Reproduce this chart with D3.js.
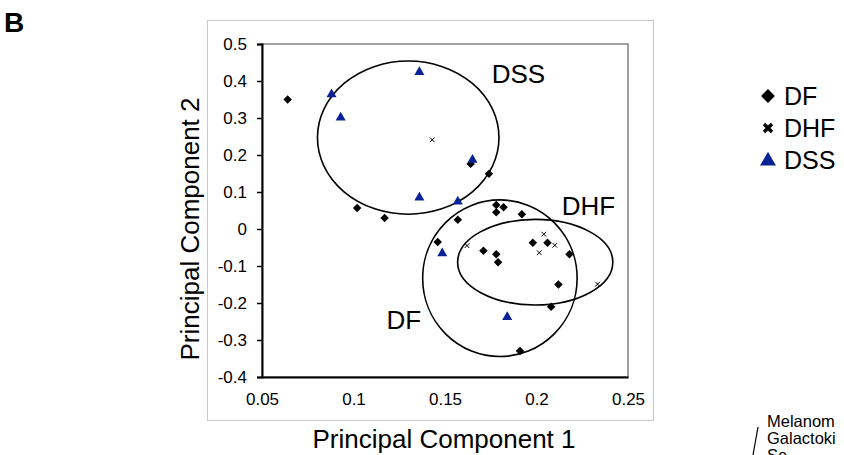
<!DOCTYPE html>
<html>
<head>
<meta charset="utf-8">
<script src="https://cdn.jsdelivr.net/npm/d3@7"></script>
<style>
  body { margin: 0; background: #fff; }
  svg { font-family: Arial, "Liberation Sans", sans-serif; }
</style>
</head>
<body>
<div id="chart"></div>
<script>
const width = 844, height = 455;

// data
const dfPoints = [
  [0.064, 0.35], [0.102, 0.057], [0.117, 0.03], [0.164, 0.176], [0.174, 0.149],
  [0.157, 0.025], [0.178, 0.065], [0.182, 0.059], [0.178, 0.045], [0.192, 0.040],
  [0.146, -0.035], [0.171, -0.059], [0.178, -0.068], [0.179, -0.090], [0.198, -0.037],
  [0.206, -0.037], [0.218, -0.068], [0.212, -0.150], [0.208, -0.210], [0.191, -0.330]
];
const dhfPoints = [
  [0.143, 0.241], [0.162, -0.045], [0.204, -0.014], [0.210, -0.044], [0.2015, -0.064], [0.2334, -0.149]
];
const dssPoints = [
  [0.088, 0.364], [0.093, 0.301], [0.136, 0.424], [0.136, 0.085], [0.157, 0.074],
  [0.165, 0.187], [0.1485, -0.066], [0.184, -0.238]
];

// group ellipses: name, centre, radii (data units)
const groupNames = ["DSS", "DF", "DHF"];
const groupCx = [0.1299, 0.180, 0.1993];
const groupCy = [0.247, -0.133, -0.0897];
const groupRx = [0.0496, 0.0422, 0.0424];
const groupRy = [0.207, 0.2116, 0.1157];
// label anchor points (data units, text baseline start)
const labelX = [0.1755, 0.1180, 0.2138];
const labelY = [0.395, -0.270, 0.037];

const xTicks = [0.05, 0.1, 0.15, 0.2, 0.25];
const yTicks = [0.5, 0.4, 0.3, 0.2, 0.1, 0, -0.1, -0.2, -0.3, -0.4];

const legendNames = ["DF", "DHF", "DSS"];
const captionLines = ["Melanom", "Galactoki", "Se"];
const dssColor = "#0a2296";

const svg = d3.select("#chart")
  .append("svg")
  .attr("width", width)
  .attr("height", height);

// outer chart frame
svg.append("rect")
  .attr("x", 207.5).attr("y", 20.5)
  .attr("width", 446).attr("height", 400)
  .attr("fill", "none")
  .attr("stroke", "#c8c8c8")
  .attr("stroke-width", 1);

// panel letter
svg.append("text")
  .attr("x", 4).attr("y", 32)
  .attr("font-size", 28)
  .attr("font-weight", "bold")
  .text("B");

// scales
const x = d3.scaleLinear().domain([0.05, 0.25]).range([262, 628]);
const y = d3.scaleLinear().domain([-0.4, 0.5]).range([377, 44]);

// plot area border (top/right gray)
svg.append("rect")
  .attr("x", x(0.05)).attr("y", y(0.5))
  .attr("width", x(0.25) - x(0.05))
  .attr("height", y(-0.4) - y(0.5))
  .attr("fill", "none")
  .attr("stroke", "#6e6e6e")
  .attr("stroke-width", 1.3);

// axes
const yAxis = svg.append("g")
  .attr("transform", `translate(${x(0.05)},0)`)
  .call(d3.axisLeft(y).tickValues(yTicks).tickSize(5).tickPadding(10)
    .tickFormat(d => d === 0 ? "0" : String(+d.toFixed(2))));
const xAxis = svg.append("g")
  .attr("transform", `translate(0,${y(-0.4)})`)
  .call(d3.axisBottom(x).tickValues(xTicks).tickSize(0).tickPadding(16)
    .tickFormat(d => String(+d.toFixed(2))));

[xAxis, yAxis].forEach(g => {
  g.select(".domain").attr("stroke", "#000").attr("stroke-width", 2);
  g.selectAll(".tick line").attr("stroke", "#000").attr("stroke-width", 1.5);
  g.selectAll(".tick text")
    .attr("fill", "#000")
    .attr("font-size", 17)
    .attr("font-family", "Arial, 'Liberation Sans', sans-serif");
});

// axis titles
svg.append("text")
  .attr("x", 444).attr("y", 448)
  .attr("text-anchor", "middle")
  .attr("font-size", 26)
  .text("Principal Component 1");

svg.append("text")
  .attr("transform", "translate(199,229) rotate(-90)")
  .attr("text-anchor", "middle")
  .attr("font-size", 26)
  .text("Principal Component 2");

// ellipses
svg.selectAll("ellipse.group")
  .data(groupNames)
  .enter()
  .append("ellipse")
  .attr("class", "group")
  .attr("cx", (d, i) => x(groupCx[i]))
  .attr("cy", (d, i) => y(groupCy[i]))
  .attr("rx", (d, i) => x(groupCx[i] + groupRx[i]) - x(groupCx[i]))
  .attr("ry", (d, i) => y(groupCy[i]) - y(groupCy[i] + groupRy[i]))
  .attr("fill", "none")
  .attr("stroke", "#000")
  .attr("stroke-width", 1.6);

svg.selectAll("text.glabel")
  .data(groupNames)
  .enter()
  .append("text")
  .attr("class", "glabel")
  .attr("x", (d, i) => x(labelX[i]))
  .attr("y", (d, i) => y(labelY[i]))
  .attr("font-size", 26)
  .text(d => d);

// markers
const diamond = s => d3.symbol(d3.symbolSquare, s)();
const tri = s => d3.symbol(d3.symbolTriangle, s)();
const cross = s => d3.symbol(d3.symbolX, s)();

svg.selectAll("path.df")
  .data(dfPoints)
  .enter()
  .append("path")
  .attr("class", "df")
  .attr("d", diamond(36))
  .attr("transform", d => `translate(${x(d[0])},${y(d[1])}) rotate(45)`)
  .attr("fill", "#000");

svg.selectAll("path.dhf")
  .data(dhfPoints)
  .enter()
  .append("path")
  .attr("class", "dhf")
  .attr("d", cross(16))
  .attr("transform", d => `translate(${x(d[0])},${y(d[1])})`)
  .attr("fill", "none")
  .attr("stroke", "#000")
  .attr("stroke-width", 1);

svg.selectAll("path.dss")
  .data(dssPoints)
  .enter()
  .append("path")
  .attr("class", "dss")
  .attr("d", tri(44))
  .attr("transform", d => `translate(${x(d[0])},${y(d[1])})`)
  .attr("fill", dssColor);

// legend
const legend = svg.append("g").attr("transform", "translate(768,96)");
legendNames.forEach((name, i) => {
  const row = legend.append("g").attr("transform", `translate(0,${i * 32})`);
  if (name === "DF") {
    row.append("path").attr("d", diamond(95)).attr("transform", "rotate(45)").attr("fill", "#000");
  } else if (name === "DHF") {
    row.append("path").attr("d", cross(44)).attr("fill", "none")
      .attr("stroke", "#000").attr("stroke-width", 3.4);
  } else {
    row.append("path").attr("d", tri(110)).attr("transform", "translate(0,1)").attr("fill", dssColor);
  }
  row.append("text")
    .attr("x", 16).attr("dy", "0.36em")
    .attr("font-size", 25)
    .text(name);
});

// cut-off caption at bottom right
svg.append("line")
  .attr("x1", 758).attr("y1", 427)
  .attr("x2", 753).attr("y2", 455)
  .attr("stroke", "#000").attr("stroke-width", 1.2);
const caption = svg.append("text").attr("font-size", 16.5);
captionLines.forEach((t, i) => {
  caption.append("tspan").attr("x", 767).attr("y", 427 + i * 17).text(t);
});
</script>
</body>
</html>
